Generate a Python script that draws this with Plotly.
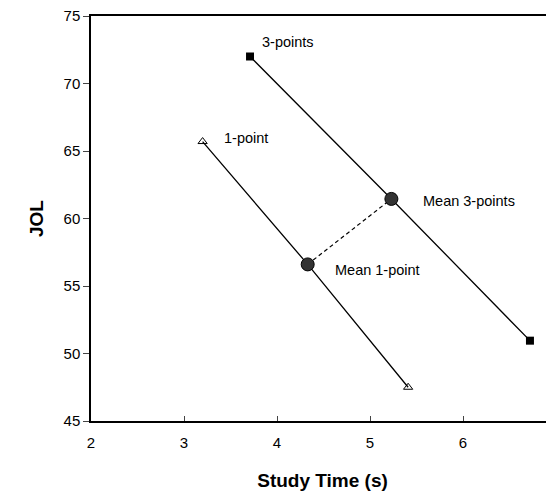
import plotly.graph_objects as go

# Data
x_3pts = [3.71, 5.23, 6.72]
y_3pts = [72.0, 61.45, 50.95]
x_1pt = [3.20, 4.33, 5.41]
y_1pt = [65.7, 56.6, 47.5]
x_means = [4.33, 5.23]
y_means = [56.6, 61.45]
x_ticks = [2, 3, 4, 5, 6, 7]
y_ticks = [45, 50, 55, 60, 65, 70, 75]

FONT = "Liberation Sans, Arial, Helvetica, sans-serif"
PAGE_OFFSET = 8  # default body margin of the html page
X_MAX = 2 + (554 - 91) / 93.0

fig = go.Figure()
# dashed connector between means
fig.add_trace(go.Scatter(x=x_means, y=y_means, mode="lines",
                         line=dict(color="black", width=1.2, dash="4px,3px"),
                         showlegend=False, hoverinfo="skip"))
# 3-points line
fig.add_trace(go.Scatter(x=x_3pts, y=y_3pts, mode="lines",
                         line=dict(color="black", width=1.3), showlegend=False))
fig.add_trace(go.Scatter(x=[x_3pts[0], x_3pts[2]], y=[y_3pts[0], y_3pts[2]], mode="markers",
                         marker=dict(symbol="square", size=8, color="black"), showlegend=False))
# 1-point line
fig.add_trace(go.Scatter(x=x_1pt, y=y_1pt, mode="lines",
                         line=dict(color="black", width=1.3), showlegend=False))
fig.add_trace(go.Scatter(x=[x_1pt[0], x_1pt[2]], y=[y_1pt[0], y_1pt[2]], mode="markers",
                         marker=dict(symbol="triangle-up-open", size=8, color="black",
                                     line=dict(width=1)), showlegend=False))
# means
fig.add_trace(go.Scatter(x=x_means, y=y_means, mode="markers",
                         marker=dict(symbol="circle", size=13, color="#333333",
                                     line=dict(color="black", width=1)), showlegend=False))

annots = [
    ("3-points", 3.82, 73.1),
    ("1-point", 3.41, 65.95),
    ("Mean 3-points", 5.55, 61.3),
    ("Mean 1-point", 4.60, 56.2),
]
for t, x, y in annots:
    fig.add_annotation(x=x, y=y, text=t, showarrow=False, xanchor="left", yanchor="middle",
                       font=dict(family=FONT, size=14.5, color="black"))

# last tick label, cut by the right edge in the reference
fig.add_annotation(x=(x_ticks[-1] - 2) / (X_MAX - 2), y=0, xref="paper", yref="paper", yshift=-21,
                   text=str(x_ticks[-1]), showarrow=False, xanchor="center", yanchor="middle",
                   font=dict(family=FONT, size=15, color="black"))

fig.update_layout(
    width=554 - PAGE_OFFSET, height=493 - PAGE_OFFSET,
    margin=dict(l=91 - PAGE_OFFSET, r=0, t=16 - PAGE_OFFSET, b=72, autoexpand=False),
    paper_bgcolor="white", plot_bgcolor="white",
    font=dict(family=FONT, size=15, color="black"),
    xaxis=dict(range=[2, X_MAX], tickvals=x_ticks, ticks="inside", ticklen=5,
               showline=True, linecolor="black", linewidth=1.5, mirror=True, automargin=False,
               showgrid=False, zeroline=False, tickfont=dict(size=15, color="black"),
               ticklabelstandoff=7, ticklabeloverflow="allow",
               title=dict(text="<b>Study Time (s)</b>", font=dict(size=19, color="black"), standoff=24)),
    yaxis=dict(range=[45, 75], tickvals=y_ticks, ticks="outside", ticklen=6, automargin=False,
               showline=True, linecolor="black", linewidth=1.5, ticklabeloverflow="allow",
               showgrid=False, zeroline=False, tickfont=dict(size=15, color="black"),
               title=dict(text="<b>JOL</b>", font=dict(size=19, color="black"), standoff=15)),
)

fig.write_html("out.html")
